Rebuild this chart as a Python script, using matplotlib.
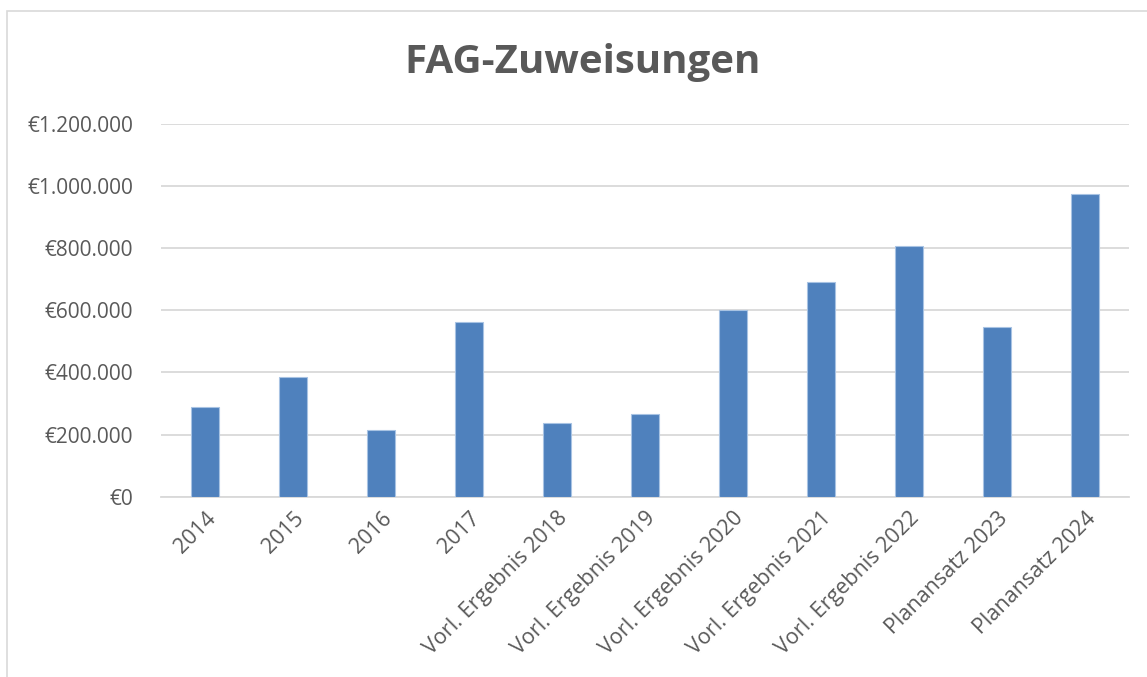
import matplotlib.pyplot as plt
from matplotlib.ticker import FuncFormatter, MultipleLocator
from matplotlib.patches import Rectangle

# Daten
kategorien = ['2014', '2015', '2016', '2017',
              'Vorl. Ergebnis 2018', 'Vorl. Ergebnis 2019', 'Vorl. Ergebnis 2020',
              'Vorl. Ergebnis 2021', 'Vorl. Ergebnis 2022',
              'Planansatz 2023', 'Planansatz 2024']
werte = [288000, 384000, 216000, 561000, 236000, 267000,
         601000, 690000, 807000, 545000, 975000]

titel = 'FAG-Zuweisungen'
grau = '#595959'

plt.rcParams['font.family'] = ['Open Sans', 'DejaVu Sans']

fig = plt.figure(figsize=(11.47, 6.77), dpi=100)
ax = fig.add_axes([161/1147, 1 - 496.7/677, (1129 - 161)/1147, (496.7 - 124)/677])

# Rahmen um das Diagramm
fig.patches.append(Rectangle((7/1147, -0.1), 1.2, 1 - 11/677 + 0.1,
                             transform=fig.transFigure, fill=False,
                             edgecolor='#d9d9d9', linewidth=1.2))

x = range(len(kategorien))
ax.bar(x, werte, width=0.31, color='#4f81bd', edgecolor='#a8c3e3', linewidth=0.8, zorder=3)

ax.set_xlim(-0.5, len(kategorien) - 0.5)
ax.set_ylim(0, 1200000)
ax.yaxis.set_major_locator(MultipleLocator(200000))
ax.yaxis.set_major_formatter(FuncFormatter(lambda v, p: '€' + f'{v:,.0f}'.replace(',', '.')))
ax.grid(axis='y', color='#d9d9d9', linewidth=1.3, zorder=0)

for s in ['top', 'right', 'left']:
    ax.spines[s].set_visible(False)
ax.spines['bottom'].set_color('#d9d9d9')
ax.spines['bottom'].set_linewidth(1.3)

ax.tick_params(axis='both', length=0, labelsize=15, labelcolor=grau)
ax.tick_params(axis='y', pad=20)
ax.tick_params(axis='x', pad=8, labelsize=15.5)
ax.set_xticks(list(x))
ax.set_xticklabels(kategorien, rotation=45, ha='right', rotation_mode='anchor')

fig.text(583/1147, 1 - 63/677, titel, ha='center', va='center',
         fontsize=29, fontweight='bold', color=grau)

fig.savefig('out.png', dpi=100)
